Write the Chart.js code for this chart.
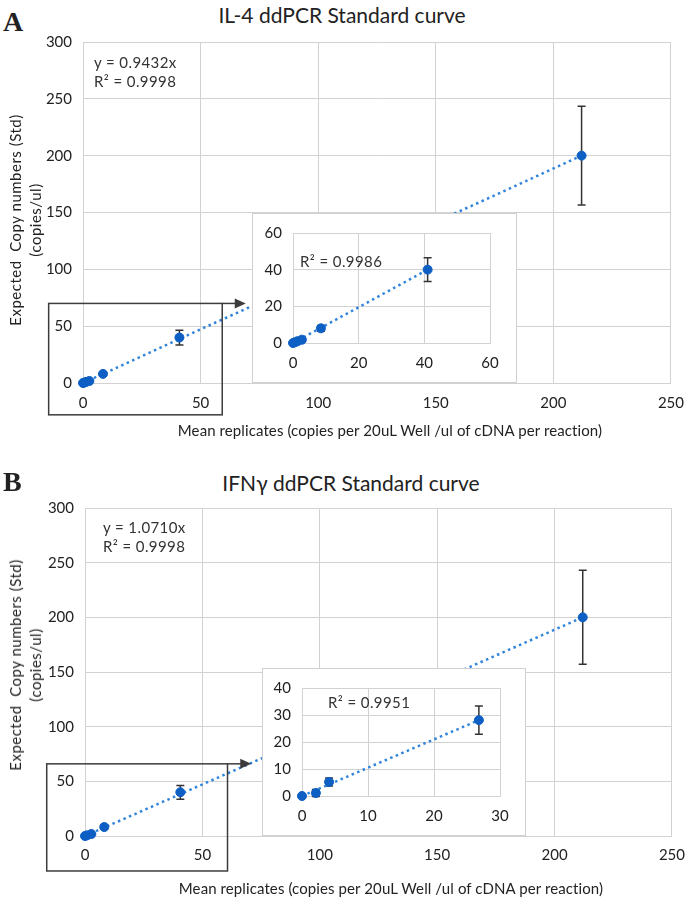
<!DOCTYPE html>
<html>
<head>
<meta charset="utf-8">
<script src="https://cdn.jsdelivr.net/npm/chart.js@4.4.1/dist/chart.umd.min.js"></script>
<style>
  body { margin: 0; background: #fff; }
  #wrap { position: relative; width: 695px; height: 897px; background: #fff; overflow: hidden; font-family: Lato, "Open Sans", sans-serif; color: #222; }
  canvas { position: absolute; }
  .t { position: absolute; white-space: pre; transform: translate(-50%, -50%); }
  .lbl { position: absolute; font-family: "Liberation Serif", "DejaVu Serif", serif; font-weight: bold; font-size: 28px; line-height: 28px; }
  .note { position: absolute; white-space: pre; font-size: 15px; line-height: 19px; letter-spacing: 0.4px; color: #333; }
  .ytitle { position: absolute; white-space: pre; text-align: center; font-size: 15px; line-height: 20px; letter-spacing: 0.5px; transform: translate(-50%, -50%) rotate(-90deg); }
</style>
</head>
<body>
<div id="wrap">
  <div class="lbl" style="left:3px;top:8px">A</div>
  <div class="t" style="left:342px;top:14px;font-size:21px">IL-4 ddPCR Standard curve</div>
  <canvas id="mainA" width="695" height="440" style="left:0;top:0"></canvas>
  <canvas id="insetA" width="265" height="170" style="left:252px;top:213px"></canvas>
  <div class="ytitle" style="left:25px;top:220px">Expected  Copy numbers (Std)
(copies/ul)</div>
  <div class="t" style="left:390px;top:430px;font-size:15px;letter-spacing:0.1px">Mean replicates (copies per 20uL Well /ul of cDNA per reaction)</div>
  <div class="note" style="left:94px;top:53px">y = 0.9432x
R² = 0.9998</div>
  <div class="note" style="left:300px;top:252px">R² = 0.9986</div>

  <div class="lbl" style="left:3px;top:468px">B</div>
  <div class="t" style="left:351px;top:482px;font-size:21px">IFNγ ddPCR Standard curve</div>
  <canvas id="mainB" width="695" height="457" style="left:0;top:440px"></canvas>
  <canvas id="insetB" width="264" height="168" style="left:262px;top:668px"></canvas>
  <div class="ytitle" style="left:25px;top:665px">Expected  Copy numbers (Std)
(copies/ul)</div>
  <div class="t" style="left:391px;top:888px;font-size:15px;letter-spacing:0.1px">Mean replicates (copies per 20uL Well /ul of cDNA per reaction)</div>
  <div class="note" style="left:103px;top:518px">y = 1.0710x
R² = 0.9998</div>
  <div class="note" style="left:328px;top:693px">R² = 0.9951</div>
</div>
<script>
// IL-4 standard curve (mean measured vs expected)
const il4X = [0, 0.6, 1.4, 2.7, 8.5, 41, 212];
const il4Y = [0, 0.4, 1.0, 1.8, 8, 40, 200];
const il4Err = [0.2, 0.3, 0.4, 0.6, 1.6, 6.5, 43.5];

// IFNγ standard curve, main plot
const ifnX = [0, 0.9, 2.7, 8.2, 40.6, 212];
const ifnY = [0, 0.6, 1.8, 8.2, 40, 200];
const ifnErr = [0.2, 0.3, 0.6, 1.5, 6.3, 43];

// IFNγ zoomed inset
const ifnInsetX = [0, 2.1, 4.1, 26.8];
const ifnInsetY = [0, 1.1, 5.2, 28.1];
const ifnInsetErr = [0.3, 1.3, 1.5, 5.2];

const pointColor = '#0d5fc4';
const trendColor = '#3084dc';
const gridColor = '#d2d2d2';
const tickFont = { family: 'Lato', size: 15 };

function toPoints(xs, ys) {
  return xs.map((x, i) => ({ x: x, y: ys[i] }));
}

const errorBars = {
  id: 'errorBars',
  beforeDatasetsDraw(chart, args, opts) {
    const ctx = chart.ctx;
    const xs = chart.scales.x, ys = chart.scales.y;
    const pts = chart.data.datasets[0].data;
    ctx.save();
    ctx.strokeStyle = '#333';
    ctx.lineWidth = 1.5;
    pts.forEach((p, i) => {
      const e = opts.errors[i];
      if (!e) return;
      const px = xs.getPixelForValue(p.x);
      const top = ys.getPixelForValue(p.y + e);
      const bot = ys.getPixelForValue(p.y - e);
      ctx.beginPath();
      ctx.moveTo(px, top); ctx.lineTo(px, bot);
      ctx.moveTo(px - 4, top); ctx.lineTo(px + 4, top);
      ctx.moveTo(px - 4, bot); ctx.lineTo(px + 4, bot);
      ctx.stroke();
    });
    ctx.restore();
  }
};

const zoomBox = {
  id: 'zoomBox',
  afterDraw(chart, args, opts) {
    if (!opts.x1) return;
    const ctx = chart.ctx;
    const xs = chart.scales.x, ys = chart.scales.y;
    const l = xs.getPixelForValue(opts.x0), r = xs.getPixelForValue(opts.x1);
    const t = ys.getPixelForValue(opts.y1), b = ys.getPixelForValue(opts.y0);
    const tip = xs.getPixelForValue(opts.tipX);
    ctx.save();
    ctx.strokeStyle = '#3c3c3c';
    ctx.fillStyle = '#3c3c3c';
    ctx.lineWidth = 1.5;
    ctx.strokeRect(l, t, r - l, b - t);
    ctx.beginPath();
    ctx.moveTo(r, t); ctx.lineTo(tip - 8, t);
    ctx.stroke();
    ctx.beginPath();
    ctx.moveTo(tip, t); ctx.lineTo(tip - 11, t - 5); ctx.lineTo(tip - 11, t + 5);
    ctx.closePath();
    ctx.fill();
    ctx.restore();
  }
};

const panelBg = {
  id: 'panelBg',
  beforeDraw(chart, args, opts) {
    if (!opts.border) return;
    const ctx = chart.ctx;
    ctx.save();
    ctx.fillStyle = '#fff';
    ctx.fillRect(0, 0, chart.width, chart.height);
    ctx.strokeStyle = '#d0d0d0';
    ctx.lineWidth = 1;
    ctx.strokeRect(0.5, 0.5, chart.width - 1, chart.height - 1);
    ctx.restore();
  }
};

function makeChart(id, xs, ys, errs, box) {
  const pts = toPoints(xs, ys);
  const last = pts[pts.length - 1];
  return new Chart(document.getElementById(id), {
    type: 'scatter',
    data: {
      datasets: [
        { data: pts, backgroundColor: pointColor, borderColor: pointColor, pointRadius: 4.5, pointHoverRadius: 4.5, clip: false },
        { data: [{ x: 0, y: 0 }, last], showLine: true, borderColor: trendColor, borderWidth: 2.5,
          borderDash: [2.5, 3.5], pointRadius: 0, pointHoverRadius: 0 }
      ]
    },
    options: {
      responsive: false,
      animation: false,
      devicePixelRatio: 1,
      layout: { padding: box.padding },
      plugins: {
        legend: { display: false },
        tooltip: { enabled: false },
        errorBars: { errors: errs },
        zoomBox: box.zoom || {},
        panelBg: { border: !!box.border }
      },
      scales: {
        x: {
          type: 'linear', min: 0, max: box.xMax,
          ticks: { stepSize: box.xStep, color: '#222', font: tickFont, padding: box.xPad },
          grid: { color: gridColor, drawTicks: false },
          border: { color: gridColor },
          afterFit: (s) => { s.height = box.xHeight; }
        },
        y: {
          type: 'linear', min: 0, max: box.yMax,
          ticks: { stepSize: box.yStep, color: '#222', font: tickFont, padding: 11 },
          grid: { color: gridColor, drawTicks: false },
          border: { color: gridColor },
          afterFit: (s) => { s.width = box.yWidth; }
        }
      }
    },
    plugins: [panelBg, errorBars, zoomBox]
  });
}

const il4InsetN = il4X.filter(x => x <= 60).length;

makeChart('mainA', il4X, il4Y, il4Err, {
  padding: { top: 42, right: 13, left: 0, bottom: 0 },
  xMax: 250, xStep: 50, yMax: 300, yStep: 50, yWidth: 83, xHeight: 57, xPad: 11,
  zoom: { x0: -14.6, x1: 59.2, y0: -28, y1: 70, tipX: 69.2 }
});
makeChart('insetA', il4X.slice(0, il4InsetN), il4Y.slice(0, il4InsetN), il4Err.slice(0, il4InsetN), {
  padding: { top: 19, right: 27, left: 0, bottom: 0 },
  xMax: 60, xStep: 20, yMax: 60, yStep: 20, yWidth: 41, xHeight: 40, xPad: 11, border: true
});
makeChart('mainB', ifnX, ifnY, ifnErr, {
  padding: { top: 68, right: 13, left: 0, bottom: 0 },
  xMax: 250, xStep: 50, yMax: 300, yStep: 50, yWidth: 85, xHeight: 61, xPad: 10,
  zoom: { x0: -16.3, x1: 60.7, y0: -32, y1: 66, tipX: 70.8 }
});
makeChart('insetB', ifnInsetX, ifnInsetY, ifnInsetErr, {
  padding: { top: 20, right: 26, left: 0, bottom: 0 },
  xMax: 30, xStep: 10, yMax: 40, yStep: 10, yWidth: 40, xHeight: 40, xPad: 11, border: true
});
</script>
</body>
</html>
